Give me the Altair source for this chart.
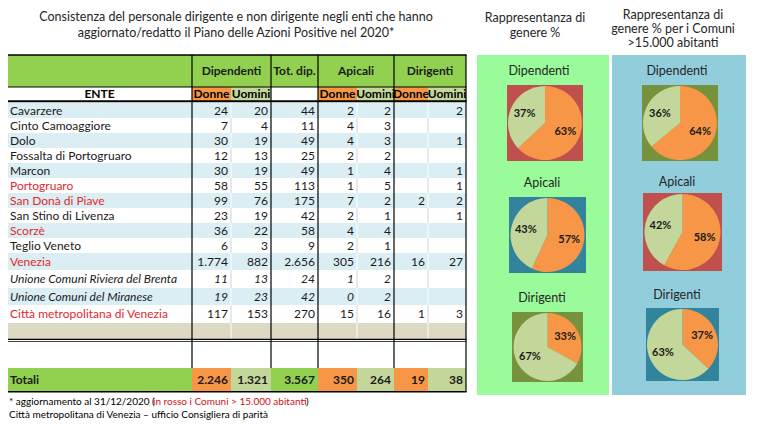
import math
import altair as alt
import pandas as pd

# ------------------------------------------------------------------ data
title_lines = ["Consistenza del personale dirigente e non dirigente negli enti che hanno",
               "aggiornato/redatto il Piano delle Azioni Positive nel 2020*"]
entities = ["Cavarzere", "Cinto Camoaggiore", "Dolo", "Fossalta di Portogruaro", "Marcon",
            "Portogruaro", "San Donà di Piave", "San Stino di Livenza", "Scorzè", "Teglio Veneto",
            "Venezia", "Unione Comuni Riviera del Brenta", "Unione Comuni del Miranese",
            "Città metropolitana di Venezia"]
over_15k = [False, False, False, False, False, True, True, False, True, False, True, False, False, True]
italic_rows = [False] * 11 + [True, True, False]
dip_donne = [24, 7, 30, 12, 30, 58, 99, 23, 36, 6, 1774, 11, 19, 117]
dip_uomini = [20, 4, 19, 13, 19, 55, 76, 19, 22, 3, 882, 13, 23, 153]
tot_dip = [44, 11, 49, 25, 49, 113, 175, 42, 58, 9, 2656, 24, 42, 270]
api_donne = [2, 4, 4, 2, 1, 1, 7, 2, 4, 2, 305, 1, 0, 15]
api_uomini = [2, 3, 3, 2, 4, 5, 2, 1, 4, 1, 216, 2, 2, 16]
dir_donne = [None, None, None, None, None, None, 2, None, None, None, 16, None, None, 1]
dir_uomini = [2, None, 1, None, 1, 1, 2, 1, None, None, 27, None, None, 3]
totals = [2246, 1321, 3567, 350, 264, 19, 38]
group_headers = ["Dipendenti", "Tot. dip.", "Apicali", "Dirigenti"]
sub_headers = ["Donne", "Uomini", "", "Donne", "Uomini", "Donne", "Uomini"]

pie_sections = ["Dipendenti", "Apicali", "Dirigenti"]
all_donne_pct = [63, 57, 33]
all_uomini_pct = [37, 43, 67]
big_donne_pct = [64, 58, 37]
big_uomini_pct = [36, 42, 63]
panel_head_all = ["Rappresentanza di", "genere %"]
panel_head_big = ["Rappresentanza di", "genere % per i Comuni", ">15.000 abitanti"]
foot_black = "* aggiornamento al 31/12/2020 ("
foot_red = "in rosso i Comuni > 15.000 abitanti"
foot_close = ")"
source_line = "Città metropolitana di Venezia \u2013 ufficio Consigliera di parità"

# ------------------------------------------------------------------ layout / style
X0, X1 = 8, 750
Y0, Y1 = 8, 422
XS = alt.Scale(domain=[X0, X1], nice=False, zero=False)
YS = alt.Scale(domain=[Y1, Y0], nice=False, zero=False)
FONT = "Lato"
TXT = "#1a1a1a"
RED = "#e3262f"
GREEN = "#92d050"
ORANGE = "#f79646"
OLIVE_L = "#c4d79b"
BLUE_ROW = "#daeef3"
BEIGE = "#ddd9c4"
BLACK = "#000000"
RED_SQ = "#c0504d"
OLIVE_SQ = "#76923c"
TEAL_SQ = "#31849b"

TL, TR = 7, 466
col_edges = [192, 231, 271, 318, 357, 394, 428, 466]
group_lines = [192, 271, 318, 394]
inner_lines = [231, 357, 428]
row_tops = [103, 118, 133, 148, 163, 178, 193, 208, 223, 238, 253, 270, 288, 305, 323]
beige_bot = 339
empty_top, empty_bot = 342, 368
tot_top, tot_bot = 368, 391
head_top, head_mid, head_bot = 55, 87, 101

sub_fills = [ORANGE, OLIVE_L, "#ffffff", ORANGE, OLIVE_L, ORANGE, OLIVE_L]
tot_fills = [ORANGE, OLIVE_L, GREEN, ORANGE, OLIVE_L, ORANGE, OLIVE_L]

squares_all = [(507, 583, 85, 161, RED_SQ), (509, 586, 197, 273, TEAL_SQ), (512, 583, 312, 382, OLIVE_SQ)]
squares_big = [(642, 718, 85, 161, OLIVE_SQ), (643, 722, 193, 271, RED_SQ), (646, 719, 308, 381, TEAL_SQ)]
pie_title_all = [(539, 71), (542, 183), (542, 298)]
pie_title_big = [(677, 71), (677, 182), (677, 295)]


def fmt(n):
    return f"{n:,}".replace(",", ".")


def rect_layer(records):
    df = pd.DataFrame(records, columns=["x0", "x1", "y0", "y1", "fill"])
    return alt.Chart(df).mark_rect(strokeWidth=0).encode(
        x=alt.X("x0:Q", scale=XS, axis=None), x2="x1:Q",
        y=alt.Y("y0:Q", scale=YS, axis=None), y2="y1:Q",
        color=alt.Color("fill:N", scale=None))


def text_layer(records, align="left", size=12, weight="normal", style="normal", font=FONT):
    df = pd.DataFrame(records, columns=["x", "y", "label", "col"])
    return alt.Chart(df).mark_text(align=align, baseline="middle", fontSize=size,
                                   fontWeight=weight, fontStyle=style, font=font).encode(
        x=alt.X("x:Q", scale=XS, axis=None),
        y=alt.Y("y:Q", scale=YS, axis=None),
        text="label:N",
        color=alt.Color("col:N", scale=None))


layers = []

# ---- backgrounds
bg = [(TL, TR, head_top, head_mid, GREEN)]
for i in range(7):
    bg.append((col_edges[i], col_edges[i + 1], head_mid, head_bot, sub_fills[i]))
for i in range(len(entities)):
    if i % 2 == 0:
        bg.append((TL, TR, row_tops[i], row_tops[i + 1], BLUE_ROW))
bg.append((TL, TR, row_tops[-1], beige_bot, BEIGE))
bg.append((TL, TR, tot_top, tot_bot, GREEN))
for i in range(7):
    bg.append((col_edges[i], col_edges[i + 1], tot_top, tot_bot, tot_fills[i]))
# right panels
bg.append((477, 609, 55, 395, "#99fb99"))
bg.append((612, 746, 55, 395, "#92cddc"))
for sq in squares_all + squares_big:
    bg.append(sq)
layers.append(rect_layer(bg))

# ---- grid lines
ln = []
for i in range(len(entities)):
    c = "#ffffff" if i % 2 == 0 else "#d4d4d4"
    for x in inner_lines:
        ln.append((x - 0.5, x + 0.5, row_tops[i], row_tops[i + 1], c))
for x in inner_lines:
    ln.append((x - 0.5, x + 0.5, row_tops[-1], beige_bot, "#ffffff"))
for x in group_lines:
    ln.append((x - 0.6, x + 0.6, head_top, empty_bot, BLACK))
ln.append((TR - 0.6, TR + 0.6, head_top, tot_bot + 1, BLACK))
ln.append((TL, TR + 0.6, head_top - 0.8, head_top + 0.8, BLACK))
ln.append((TL, TR + 0.6, head_mid - 0.6, head_mid + 0.6, BLACK))
ln.append((TL, TR + 0.6, head_bot - 0.8, head_bot + 1.2, BLACK))
ln.append((TL, TR + 0.6, beige_bot - 0.3, beige_bot + 1.0, BLACK))
ln.append((TL, TR + 0.6, beige_bot + 2.2, beige_bot + 3.0, BLACK))
ln.append((TL, TR + 0.6, tot_bot, tot_bot + 1.4, BLACK))
layers.append(rect_layer(ln))

# ---- pies
pie_rows, lab_rows = [], []
for squares, donne, uomini in [(squares_all, all_donne_pct, all_uomini_pct),
                               (squares_big, big_donne_pct, big_uomini_pct)]:
    for i in range(3):
        x0, x1, y0, y1, _ = squares[i]
        cx, cy = (x0 + x1) / 2, (y0 + y1) / 2
        r = min(x1 - x0, y1 - y0) / 2 - 1
        d, u = donne[i], uomini[i]
        split = 2 * math.pi * d / (d + u)
        pie_rows.append((cx, cy, 0.0, split, r, ORANGE))
        pie_rows.append((cx, cy, split, 2 * math.pi, r, OLIVE_L))
        lr = 0.6 * r
        for mid, v in [(split / 2, d), ((split + 2 * math.pi) / 2, u)]:
            lab_rows.append((cx + lr * math.sin(mid), cy - lr * math.cos(mid), f"{v}%", TXT))
pie_df = pd.DataFrame(pie_rows, columns=["cx", "cy", "t0", "t1", "r", "fill"])
layers.append(alt.Chart(pie_df).mark_arc(strokeWidth=0).encode(
    x=alt.X("cx:Q", scale=XS, axis=None),
    y=alt.Y("cy:Q", scale=YS, axis=None),
    theta=alt.Theta("t0:Q", scale=None, stack=None),
    theta2="t1:Q",
    radius=alt.Radius("r:Q", scale=None),
    color=alt.Color("fill:N", scale=None)))
layers.append(text_layer(lab_rows, align="center", size=11, weight="bold"))

# ---- titles & panel headers
tt = [(236, 17 + 16 * k, s, "#262626") for k, s in enumerate(title_lines)]
tt += [(535, 18 + 15 * k, s, "#262626") for k, s in enumerate(panel_head_all)]
tt += [(673, 15 + 14 * k, s, "#262626") for k, s in enumerate(panel_head_big)]
for (px, py), name in zip(pie_title_all, pie_sections):
    tt.append((px, py, name, "#262626"))
for (px, py), name in zip(pie_title_big, pie_sections):
    tt.append((px, py, name, "#262626"))
layers.append(text_layer(tt, align="center", size=12.5))

# ---- table header texts
centers = [(col_edges[0] + col_edges[2]) / 2, (col_edges[2] + col_edges[3]) / 2,
           (col_edges[3] + col_edges[5]) / 2, (col_edges[5] + col_edges[7]) / 2]
hh = [(c, (head_top + head_mid) / 2, g, TXT) for c, g in zip(centers, group_headers)]
hh.append(((TL + col_edges[0]) / 2, (head_mid + head_bot) / 2, "ENTE", BLACK))
for i, s in enumerate(sub_headers):
    if s:
        hh.append(((col_edges[i] + col_edges[i + 1]) / 2, (head_mid + head_bot) / 2, s, BLACK))
layers.append(text_layer(hh, align="center", size=12, weight="bold"))

# ---- entity names
names_n, names_i = [], []
for i, e in enumerate(entities):
    yc = (row_tops[i] + row_tops[i + 1]) / 2
    rec = (10, yc, e, RED if over_15k[i] else TXT)
    (names_i if italic_rows[i] else names_n).append(rec)
layers.append(text_layer(names_n, align="left", size=12))
layers.append(text_layer(names_i, align="left", size=12, style="italic"))

# ---- numbers
cols = [dip_donne, dip_uomini, tot_dip, api_donne, api_uomini, dir_donne, dir_uomini]
num_n, num_i = [], []
for i in range(len(entities)):
    yc = (row_tops[i] + row_tops[i + 1]) / 2
    for j, col in enumerate(cols):
        v = col[i]
        if v is None:
            continue
        rec = (col_edges[j + 1] - 3, yc, fmt(v), TXT)
        (num_i if italic_rows[i] else num_n).append(rec)
layers.append(text_layer(num_n, align="right", size=12))
layers.append(text_layer(num_i, align="right", size=12, style="italic"))

# ---- totals
ty = (tot_top + tot_bot) / 2
layers.append(text_layer([(10, ty, "Totali", TXT)], align="left", size=12, weight="bold"))
layers.append(text_layer([(col_edges[j + 1] - 3, ty, fmt(v), TXT) for j, v in enumerate(totals)],
                         align="right", size=12, weight="bold"))

# ---- footnotes
layers.append(text_layer([(9, 402, foot_black, BLACK), (306, 402, foot_close, BLACK),
                          (9, 415, source_line, BLACK)], align="left", size=10))
layers.append(text_layer([(153, 402, foot_red, "#d0101a")], align="left", size=10))

chart = alt.layer(*layers).properties(
    width=X1 - X0, height=Y1 - Y0, padding=0,
    autosize=alt.AutoSizeParams(type="none"),
    background="#ffffff",
).configure_view(stroke=None)

chart.save("out.html", embed_options={"renderer": "svg", "actions": False})
